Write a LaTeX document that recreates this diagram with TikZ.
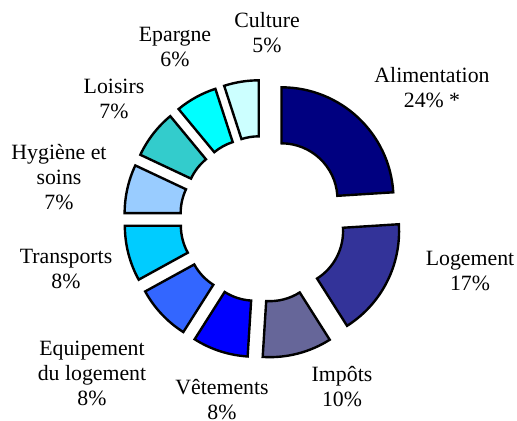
\documentclass[tikz,border=0pt]{standalone}
\usepackage{fontspec}
\setmainfont{Liberation Serif}
\definecolor{alim}{HTML}{000080}
\definecolor{loge}{HTML}{333399}
\definecolor{impo}{HTML}{666699}
\definecolor{vete}{HTML}{0000FF}
\definecolor{equi}{HTML}{3366FF}
\definecolor{tran}{HTML}{00CCFF}
\definecolor{hygi}{HTML}{99CCFF}
\definecolor{lois}{HTML}{33CCCC}
\definecolor{epar}{HTML}{00FFFF}
\definecolor{cult}{HTML}{CCFFFF}
\begin{document}
\begin{tikzpicture}[x=0.5pt, y=0.5pt,
    wedge/.style={draw=black, line width=1.2pt, line join=miter},
    lbl/.style={align=center, inner sep=0pt, font=\fontsize{10.9}{12.5}\selectfont}]
        \useasboundingbox (0,0) rectangle (517,420);
        % slices: start angle / end angle / colour
        \begin{scope}[shift={(263,201)}]
        \foreach \a/\b/\c in {90/3.6/alim, 3.6/-57.6/loge, -57.6/-93.6/impo,
                              -93.6/-122.4/vete, -122.4/-151.2/equi, -151.2/-180/tran,
                              180/154.8/hygi, 154.8/129.6/lois, 129.6/108/epar, 108/90/cult}
        {
            \pgfmathsetmacro\m{(\a+\b)/2}
            \draw[wedge, fill=\c, shift={(\m:27)}] (\a:56) -- (\a:112)
                arc[start angle=\a, end angle=\b, radius=112] -- (\b:56)
                arc[start angle=\b, end angle=\a, radius=56] -- cycle;
        }
        \end{scope}
        % labels
        \node[lbl] (alimentation) at (432,332) {Alimentation\\24\% *};
        \node[lbl] (logement) at (470,149) {Logement\\17\%};
        \node[lbl] (impots) at (342,33) {Impôts\\10\%};
        \node[lbl] (vetements) at (222,20) {Vêtements\\8\%};
        \node[lbl] (equipement) at (92,47) {Equipement\\du logement\\8\%};
        \node[lbl] (transports) at (66,151) {Transports\\8\%};
        \node[lbl] (hygiene) at (59,243) {Hygiène et\\soins\\7\%};
        \node[lbl] (loisirs) at (114,321) {Loisirs\\7\%};
        \node[lbl] (epargne) at (175,373) {Epargne\\6\%};
        \node[lbl] (culture) at (267,387) {Culture\\5\%};
    \end{tikzpicture}
\end{document}
